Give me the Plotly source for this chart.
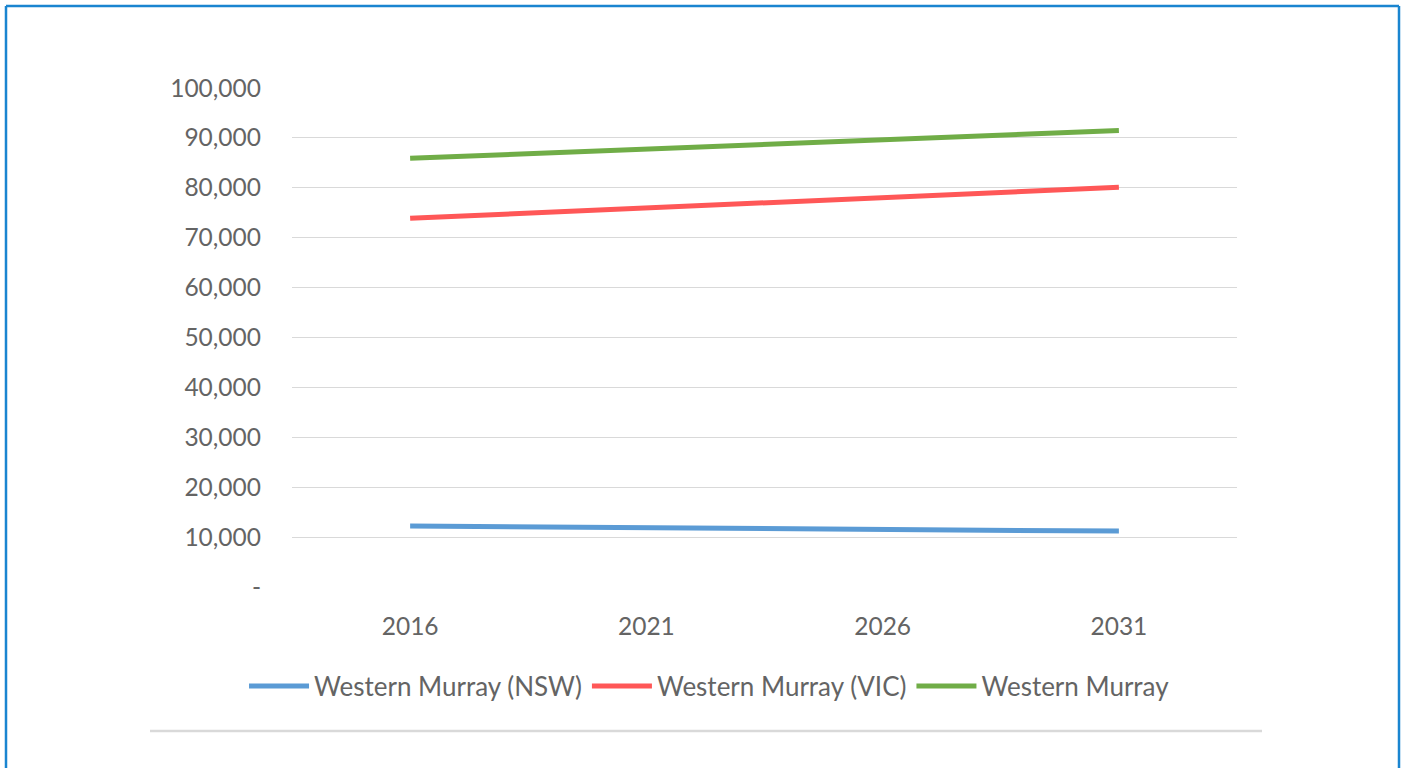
import plotly.graph_objects as go

years = ["2016", "2021", "2026", "2031"]
nsw = [12200, 11800, 11500, 11200]
vic = [73900, 75900, 78100, 80100]
total = [85900, 87800, 89600, 91500]
series_names = ["Western Murray (NSW)", "Western Murray (VIC)", "Western Murray"]
colors = ["#5B9BD5", "#FF5757", "#70AD47"]
y_ticks = [0, 10000, 20000, 30000, 40000, 50000, 60000, 70000, 80000, 90000, 100000]
y_ticktext = ["-", "10,000", "20,000", "30,000", "40,000", "50,000", "60,000",
              "70,000", "80,000", "90,000", "100,000"]

W, H = 1405, 768
L, R, T, B = 292, 1237, 88, 587

fig = go.Figure()
for name, vals, c in zip(series_names, [nsw, vic, total], colors):
    fig.add_trace(go.Scatter(x=years, y=vals, mode="lines", name=name,
                             line=dict(color=c, width=5)))

def px(x):
    return (x - L) / (R - L)

def py(y):
    return (B - y) / (B - T)

shapes = [
    dict(type="line", xref="paper", yref="paper", x0=px(150), x1=px(1262),
         y0=py(731), y1=py(731), line=dict(color="#D9D9D9", width=2.5)),
    dict(type="line", xref="paper", yref="paper", x0=px(6), x1=px(1399),
         y0=py(6), y1=py(6), line=dict(color="#1A85D0", width=2.5)),
    dict(type="line", xref="paper", yref="paper", x0=px(6), x1=px(6),
         y0=py(6), y1=py(800), line=dict(color="#1A85D0", width=2.5)),
    dict(type="line", xref="paper", yref="paper", x0=px(1399), x1=px(1399),
         y0=py(6), y1=py(800), line=dict(color="#1A85D0", width=2.5)),
]

font_family = "Lato, Open Sans, sans-serif"
txt_color = "#646464"
fig.update_layout(
    width=W, height=H,
    margin=dict(l=L, r=W - R, t=T, b=H - B),
    paper_bgcolor="white", plot_bgcolor="white",
    font=dict(family=font_family, color=txt_color, size=24),
    showlegend=True,
    legend=dict(orientation="h", xref="container", x=0.505, xanchor="center",
                yref="container", y=(H - 686) / H, yanchor="middle",
                font=dict(size=26, color=txt_color), itemwidth=60,
                tracegroupgap=0),
    xaxis=dict(type="category", range=[-0.5, 3.5], showgrid=False, zeroline=False,
               showline=False, ticks="", ticklabelstandoff=22,
               tickfont=dict(size=24.5, color=txt_color)),
    yaxis=dict(range=[0, 100000], tickvals=y_ticks, ticktext=y_ticktext,
               showgrid=True, gridcolor="#D9D9D9", gridwidth=1, zeroline=False,
               showline=False, ticks="", ticklabelstandoff=30,
               tickfont=dict(size=24.5, color=txt_color)),
    shapes=shapes,
)

fig.write_html("out.html", config={"displayModeBar": False},
               post_script="document.body.style.margin='0';document.body.style.overflow='hidden';")
